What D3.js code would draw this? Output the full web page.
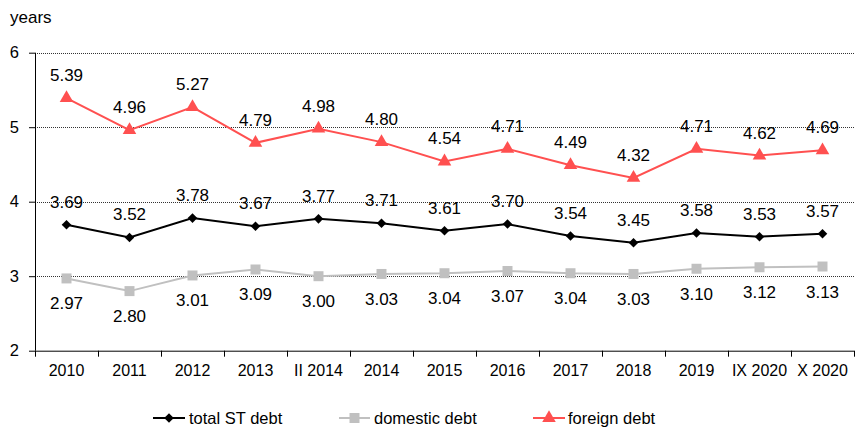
<!DOCTYPE html>
<html>
<head>
<meta charset="utf-8">
<script src="https://cdn.jsdelivr.net/npm/d3@7"></script>
<style>
  body { margin: 0; background: #fff; }
  svg { display: block; font-family: "Liberation Sans", Arial, sans-serif; }
</style>
</head>
<body>
<svg id="chart" width="865" height="428"></svg>
<script>
// Average maturity of short-term debt, in years
const categories = ["2010", "2011", "2012", "2013", "II 2014", "2014", "2015", "2016", "2017", "2018", "2019", "IX 2020", "X 2020"];
const totalDebt    = [3.69, 3.52, 3.78, 3.67, 3.77, 3.71, 3.61, 3.70, 3.54, 3.45, 3.58, 3.53, 3.57];
const domesticDebt = [2.97, 2.80, 3.01, 3.09, 3.00, 3.03, 3.04, 3.07, 3.04, 3.03, 3.10, 3.12, 3.13];
const foreignDebt  = [5.39, 4.96, 5.27, 4.79, 4.98, 4.80, 4.54, 4.71, 4.49, 4.32, 4.71, 4.62, 4.69];
const yTicks = [2, 3, 4, 5, 6];

// square rhombus marker (equal width and height)
const symbolRhombus = {
  draw(ctx, size) {
    const r = Math.sqrt(size / 2);
    ctx.moveTo(0, -r); ctx.lineTo(r, 0); ctx.lineTo(0, r); ctx.lineTo(-r, 0); ctx.closePath();
  }
};

const series = [
  { name: "total ST debt", values: totalDebt,    color: "#000000", symbol: symbolRhombus,    size: 46, labelDy: -17 },
  { name: "domestic debt", values: domesticDebt, color: "#c0c0c0", symbol: d3.symbolSquare,   size: 100, labelDy: 31 },
  { name: "foreign debt",  values: foreignDebt,  color: "#ff5050", symbol: d3.symbolTriangle, size: 80, labelDy: -17 }
];

const svg = d3.select("#chart");
const plotLeft = 35, plotRight = 854, plotTop = 52.7, plotBottom = 350.7;

const x = d3.scaleBand().domain(categories).range([plotLeft, plotRight]);
const y = d3.scaleLinear().domain([2, 6]).range([plotBottom, plotTop]);

// dotted horizontal gridlines
svg.append("g")
  .selectAll("line")
  .data(yTicks.filter(t => t > 2))
  .join("line")
  .attr("x1", plotLeft).attr("x2", plotRight)
  .attr("y1", d => Math.round(y(d)) + 0.5).attr("y2", d => Math.round(y(d)) + 0.5)
  .attr("stroke", "#333").attr("stroke-width", 1)
  .attr("stroke-dasharray", "1,1");

// y axis
const yAxis = svg.append("g")
  .attr("transform", `translate(${plotLeft},0)`)
  .call(d3.axisLeft(y).tickValues(yTicks).tickFormat(d3.format("d")).tickSize(6).tickPadding(10));
yAxis.selectAll("text").attr("font-size", 16.5).attr("fill", "#000")
  .attr("font-family", "Liberation Sans, Arial, sans-serif");
yAxis.selectAll("line, path").attr("stroke", "#000");
yAxis.select(".domain").attr("d", `M0.5,${plotBottom}V${plotTop}`);

// x axis with ticks at category boundaries
const xAxis = svg.append("g")
  .attr("transform", `translate(0,${plotBottom})`)
  .call(d3.axisBottom(x).tickSize(0).tickPadding(14));
xAxis.selectAll("text").attr("font-size", 16).attr("fill", "#000")
  .attr("font-family", "Liberation Sans, Arial, sans-serif");
xAxis.select(".domain").attr("stroke", "#000").attr("d", `M${plotLeft},0.5H${plotRight}`);
const bounds = categories.map(c => x(c)).concat([plotRight]);
xAxis.append("g").selectAll("line")
  .data(bounds)
  .join("line")
  .attr("x1", d => Math.round(d) + 0.5).attr("x2", d => Math.round(d) + 0.5)
  .attr("y1", 0).attr("y2", 6)
  .attr("stroke", "#000");

// "years" unit label
svg.append("text").attr("x", 10).attr("y", 23).attr("font-size", 17).text("years");

const cx = c => x(c) + x.bandwidth() / 2;

// lines, markers, value labels
series.forEach(s => {
  const pts = categories.map((c, i) => [cx(c), y(s.values[i]), s.values[i]]);
  svg.append("path")
    .attr("d", d3.line()(pts.map(p => [p[0], p[1]])))
    .attr("fill", "none").attr("stroke", s.color).attr("stroke-width", 2);
  svg.append("g").selectAll("path")
    .data(pts).join("path")
    .attr("transform", p => `translate(${p[0]},${p[1]})`)
    .attr("d", d3.symbol().type(s.symbol).size(s.size))
    .attr("fill", s.color);
  svg.append("g").selectAll("text")
    .data(pts).join("text")
    .attr("x", p => p[0]).attr("y", p => p[1] + s.labelDy)
    .attr("text-anchor", "middle").attr("font-size", 17).attr("fill", "#000")
    .text(p => p[2].toFixed(2));
});

// legend
const legendItems = [
  { s: series[0], x0: 153, x1: 185, tx: 189 },
  { s: series[1], x0: 339, x1: 370, tx: 374 },
  { s: series[2], x0: 533, x1: 565, tx: 568 }
];
const ly = 418;
legendItems.forEach(it => {
  svg.append("line").attr("x1", it.x0).attr("x2", it.x1).attr("y1", ly).attr("y2", ly)
    .attr("stroke", it.s.color).attr("stroke-width", 2);
  svg.append("path").attr("transform", `translate(${(it.x0 + it.x1) / 2},${ly})`)
    .attr("d", d3.symbol().type(it.s.symbol).size(it.s.size)).attr("fill", it.s.color);
  svg.append("text").attr("x", it.tx).attr("y", ly + 6).attr("font-size", 16.5).text(it.s.name);
});
</script>
</body>
</html>
